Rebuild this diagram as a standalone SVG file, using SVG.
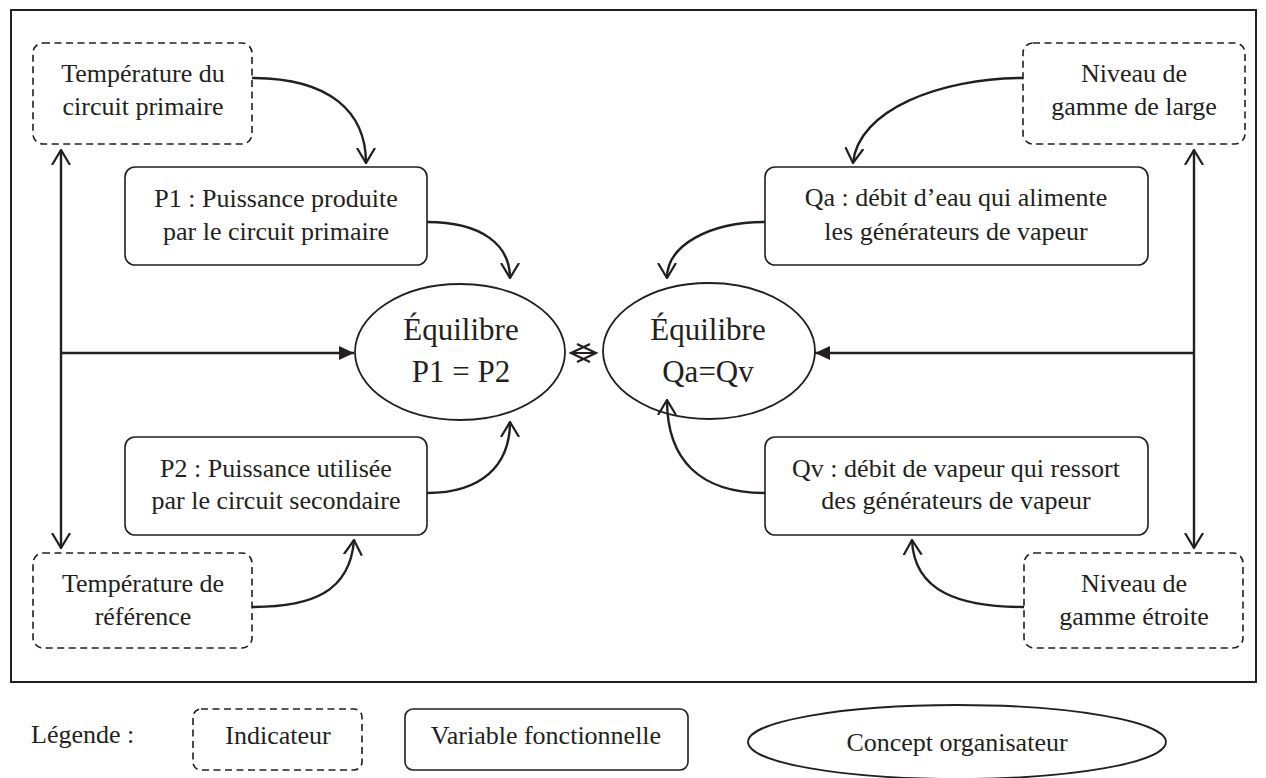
<svg xmlns="http://www.w3.org/2000/svg" width="1266" height="778" viewBox="0 0 1266 778">
<defs>
<style>
.t{font-family:"Liberation Serif","Times New Roman",serif;font-size:26px;fill:#231f20;text-anchor:middle}
.tb{font-family:"Liberation Serif","Times New Roman",serif;font-size:31px;fill:#231f20;text-anchor:middle}
.dash{fill:#fff;stroke:#231f20;stroke-width:1.6;stroke-dasharray:7 4.5}
.box{fill:#fff;stroke:#231f20;stroke-width:1.6}
.ell{fill:#fff;stroke:#231f20;stroke-width:1.8}
.c{fill:none;stroke:#231f20;stroke-width:2.4}
</style>
<marker id="open" markerUnits="userSpaceOnUse" viewBox="0 0 16 20" refX="15" refY="10" markerWidth="16" markerHeight="20" orient="auto-start-reverse">
<path d="M0,1 L15,10 L0,19" fill="none" stroke="#231f20" stroke-width="2.2"/>
</marker>
<marker id="fill" markerUnits="userSpaceOnUse" viewBox="0 0 16 16" refX="15" refY="8" markerWidth="16" markerHeight="16" orient="auto">
<path d="M0,1 L15,8 L0,15 Z" fill="#231f20"/>
</marker>
</defs>
<rect width="1266" height="778" fill="#fff"/>
<rect x="11" y="10" width="1245" height="672" fill="none" stroke="#231f20" stroke-width="2"/>

<g id="temp-primaire">
<rect class="dash" x="33" y="43" width="219" height="101" rx="10"/>
<text class="t" x="143" y="82">Température du</text>
<text class="t" x="143" y="115">circuit primaire</text>
</g>
<g id="p1">
<rect class="box" x="125" y="167" width="302" height="98" rx="10"/>
<text class="t" x="276" y="207">P1 : Puissance produite</text>
<text class="t" x="276" y="240">par le circuit primaire</text>
</g>
<g id="p2">
<rect class="box" x="125" y="437" width="302" height="98" rx="10"/>
<text class="t" x="276" y="477">P2 : Puissance utilisée</text>
<text class="t" x="276" y="509">par le circuit secondaire</text>
</g>
<g id="temp-reference">
<rect class="dash" x="33" y="553" width="219" height="95" rx="10"/>
<text class="t" x="143" y="592">Température de</text>
<text class="t" x="143" y="625">référence</text>
</g>
<g id="eq-p">
<ellipse class="ell" cx="460" cy="352" rx="105" ry="68"/>
<text class="tb" x="461" y="340">Équilibre</text>
<text class="tb" x="461" y="382">P1 = P2</text>
</g>
<g id="eq-q">
<ellipse class="ell" cx="709" cy="351" rx="106" ry="68"/>
<text class="tb" x="708" y="340">Équilibre</text>
<text class="tb" x="708" y="382">Qa=Qv</text>
</g>
<g id="niveau-large">
<rect class="dash" x="1023" y="43" width="222" height="101" rx="10"/>
<text class="t" x="1134" y="82">Niveau de</text>
<text class="t" x="1134" y="115">gamme de large</text>
</g>
<g id="qa">
<rect class="box" x="765" y="167" width="383" height="98" rx="10"/>
<text class="t" x="956" y="206">Qa : débit d’eau qui alimente</text>
<text class="t" x="956" y="240">les générateurs de vapeur</text>
</g>
<g id="qv">
<rect class="box" x="765" y="437" width="383" height="98" rx="10"/>
<text class="t" x="956" y="477">Qv : débit de vapeur qui ressort</text>
<text class="t" x="956" y="509">des générateurs de vapeur</text>
</g>
<g id="niveau-etroite">
<rect class="dash" x="1024" y="553" width="219" height="95" rx="10"/>
<text class="t" x="1134" y="592">Niveau de</text>
<text class="t" x="1134" y="625">gamme étroite</text>
</g>

<g id="connectors">
<path class="c" d="M61,150 V548" marker-start="url(#open)" marker-end="url(#open)"/>
<path class="c" d="M61,353 H354" marker-end="url(#fill)"/>
<path class="c" d="M1194,150 V548" marker-start="url(#open)" marker-end="url(#open)"/>
<path class="c" d="M1194,353 H815" marker-end="url(#fill)"/>
<path class="c" d="M252,78 C330,78 366,112 366,163" marker-end="url(#open)"/>
<path class="c" d="M427,222 C482,222 510,245 510,278" marker-end="url(#open)"/>
<path class="c" d="M427,493 C482,493 510,465 510,422" marker-end="url(#open)"/>
<path class="c" d="M252,607 C312,607 350,592 354,540" marker-end="url(#open)"/>
<path class="c" d="M1023,78 C940,78 858,110 853,163" marker-end="url(#open)"/>
<path class="c" d="M765,222 C710,222 667,245 667,278" marker-end="url(#open)"/>
<path class="c" d="M765,493 C700,493 667,460 667,400" marker-end="url(#open)"/>
<path class="c" d="M1024,607 C960,607 914,592 912,540" marker-end="url(#open)"/>
<path d="M571,353 H596 M590,344 L571,353 L590,362 M577,344 L596,353 L577,362" fill="none" stroke="#231f20" stroke-width="2.2"/>
</g>

<g id="legend">
<text class="t" x="31" y="743" style="text-anchor:start">Légende :</text>
<rect class="dash" x="193" y="709" width="169" height="61" rx="8"/>
<text class="t" x="278" y="744">Indicateur</text>
<rect class="box" x="405" y="709" width="283" height="61" rx="8"/>
<text class="t" x="546" y="744">Variable fonctionnelle</text>
<ellipse class="ell" cx="957" cy="742" rx="209" ry="37"/>
<text class="t" x="957" y="751">Concept organisateur</text>
</g>
</svg>
